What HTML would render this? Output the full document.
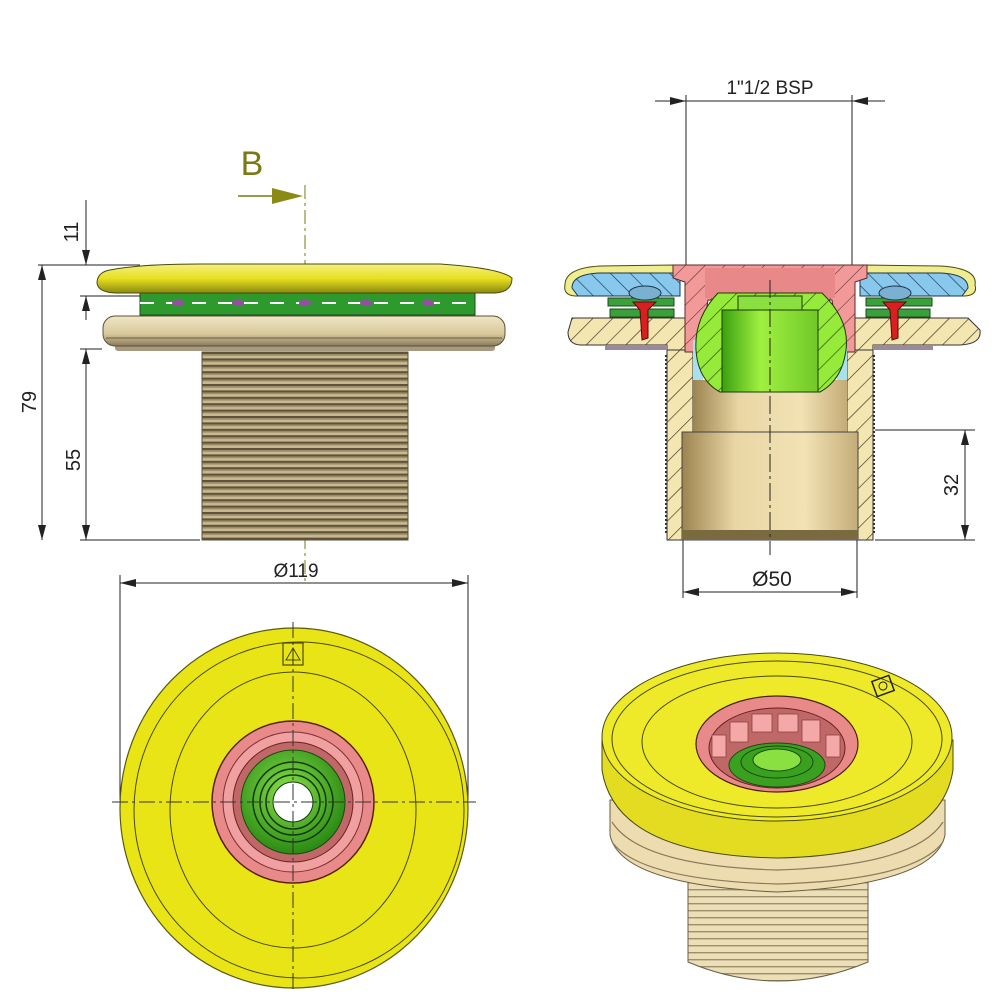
<!DOCTYPE html>
<html><head><meta charset="utf-8"><style>
html,body{margin:0;padding:0;background:#fff;}
svg{display:block;}
text{font-family:"Liberation Sans",sans-serif;}
</style></head><body>
<svg width="1000" height="1000" viewBox="0 0 1000 1000" xmlns="http://www.w3.org/2000/svg">
<defs>
<pattern id="thr" width="8" height="6.4" patternUnits="userSpaceOnUse">
<rect width="8" height="6.4" fill="#c8b88e"/>
<rect y="0" width="8" height="2.2" fill="#5e5238"/>
<rect y="2.2" width="8" height="1.5" fill="#9a8a6a"/>
</pattern>
<pattern id="thr3" width="8" height="7" patternUnits="userSpaceOnUse">
<rect width="8" height="7" fill="#ecdfb8"/>
<rect y="0" width="8" height="1.4" fill="#9e8f6c"/>
</pattern>
<pattern id="hatch" width="14" height="14" patternUnits="userSpaceOnUse" patternTransform="rotate(45)">
<rect width="14" height="14" fill="#f4e6b0"/>
<line x1="0" y1="0" x2="0" y2="14" stroke="#3a3320" stroke-width="1.3"/>
</pattern>
<pattern id="hatchB" width="14" height="14" patternUnits="userSpaceOnUse" patternTransform="rotate(-45)">
<rect width="14" height="14" fill="#88c8ec"/>
<line x1="0" y1="0" x2="0" y2="14" stroke="#1a3550" stroke-width="1.3"/>
</pattern>
<pattern id="hatchG" width="14" height="14" patternUnits="userSpaceOnUse" patternTransform="rotate(45)">
<rect width="14" height="14" fill="#96ea3a"/>
<line x1="0" y1="0" x2="0" y2="14" stroke="#2a4a10" stroke-width="1.3"/>
</pattern>
<pattern id="hatchP" width="14" height="14" patternUnits="userSpaceOnUse" patternTransform="rotate(45)">
<rect width="14" height="14" fill="#f29a9a"/>
<line x1="0" y1="0" x2="0" y2="14" stroke="#5a2a2a" stroke-width="1.1"/>
</pattern>
<linearGradient id="tube" x1="0" x2="1">
<stop offset="0" stop-color="#9c8450"/><stop offset="0.3" stop-color="#e9d6a4"/><stop offset="0.7" stop-color="#f2e2b4"/><stop offset="1" stop-color="#c4ac78"/>
</linearGradient>
<linearGradient id="gcyl" x1="0" x2="1">
<stop offset="0" stop-color="#3aa010"/><stop offset="0.4" stop-color="#a0f040"/><stop offset="1" stop-color="#70c828"/>
</linearGradient>
<radialGradient id="gball" cx="0.45" cy="0.4" r="0.6">
<stop offset="0" stop-color="#8ae04a"/><stop offset="1" stop-color="#2a8a14"/>
</radialGradient>
<linearGradient id="yel" x1="0" y1="0" x2="0" y2="1">
<stop offset="0" stop-color="#f4f080"/><stop offset="0.5" stop-color="#e6e020"/><stop offset="1" stop-color="#8a8a10"/>
</linearGradient>
<linearGradient id="tan" x1="0" y1="0" x2="0" y2="1">
<stop offset="0" stop-color="#f0e6c4"/><stop offset="0.6" stop-color="#d8c89c"/><stop offset="1" stop-color="#8a7a5a"/>
</linearGradient>
</defs>

<text x="252" y="175" font-size="34" fill="#7a7a10" text-anchor="middle">B</text>
<line x1="238" y1="196" x2="275" y2="196" stroke="#7a7a10" stroke-width="1.5"/>
<polygon points="272,188 303,196 272,204" fill="#8a8a14"/>
<line x1="305" y1="185" x2="305" y2="585" stroke="#7a7a10" stroke-width="1" stroke-dasharray="14,4,3,4"/>

<rect x="202" y="352" width="206" height="188" fill="url(#thr)"/>
<rect x="202" y="352" width="206" height="188" fill="none" stroke="#5a503a" stroke-width="1"/>
<rect x="115" y="342" width="380" height="9" fill="#a89a80" rx="3"/>
<rect x="103" y="316" width="402" height="30" rx="12" fill="url(#tan)" stroke="#5a503a" stroke-width="1"/>
<line x1="106" y1="338" x2="502" y2="338" stroke="#6a5e44" stroke-width="1"/>
<rect x="140" y="293" width="335" height="22" fill="#2e9a2e" stroke="#1a4a1a" stroke-width="1"/>
<line x1="140" y1="303" x2="475" y2="303" stroke="#fff" stroke-width="2" stroke-dasharray="14,12"/>
<g fill="#9a4aaa"><ellipse cx="178" cy="303" rx="6" ry="3"/><ellipse cx="238" cy="303" rx="6" ry="3"/><ellipse cx="305" cy="303" rx="6" ry="3"/><ellipse cx="366" cy="303" rx="6" ry="3"/><ellipse cx="428" cy="303" rx="6" ry="3"/></g>
<path d="M110,270 Q140,264 200,264 L440,264 Q500,268 512,278 Q512,292 495,293 L115,293 Q97,292 97,282 Q98,272 110,270Z" fill="url(#yel)" stroke="#4a4a10" stroke-width="1"/>

<g stroke="#222" stroke-width="1" fill="none">
<line x1="38" y1="265" x2="140" y2="265"/>
<line x1="80" y1="540" x2="200" y2="540"/>
<line x1="80" y1="296" x2="140" y2="296"/>
<line x1="80" y1="349" x2="102" y2="349"/>
<line x1="42" y1="265" x2="42" y2="540"/>
<line x1="86" y1="200" x2="86" y2="265"/>
<line x1="86" y1="296" x2="86" y2="320"/>
<line x1="86" y1="349" x2="86" y2="540"/>
</g>
<g fill="#222">
<polygon points="42,265 38,280 46,280"/><polygon points="42,540 38,525 46,525"/>
<polygon points="86,265 82,250 90,250"/><polygon points="86,296 82,311 90,311"/>
<polygon points="86,349 82,364 90,364"/><polygon points="86,540 82,525 90,525"/>
</g>
<text transform="translate(78,232) rotate(-90)" font-size="20" fill="#222" text-anchor="middle">11</text>
<text transform="translate(36,402) rotate(-90)" font-size="20" fill="#222" text-anchor="middle">79</text>
<text transform="translate(80,460) rotate(-90)" font-size="20" fill="#222" text-anchor="middle">55</text>

<g stroke="#222" stroke-width="1"><line x1="120" y1="575" x2="120" y2="800"/><line x1="468" y1="575" x2="468" y2="800"/><line x1="120" y1="583" x2="468" y2="583"/></g>
<polygon points="120,583 136,579 136,587" fill="#222"/><polygon points="468,583 452,579 452,587" fill="#222"/>
<text x="296" y="577" font-size="19" fill="#222" text-anchor="middle">Ø119</text>

<ellipse cx="294" cy="808" rx="174" ry="180" fill="#e8e416" stroke="#5a5a10" stroke-width="1.2"/>
<ellipse cx="299" cy="810" rx="165" ry="168" fill="none" stroke="#4a4a10" stroke-width="1"/>
<ellipse cx="293" cy="810" rx="123" ry="138" fill="none" stroke="#4a4a10" stroke-width="1"/>
<rect x="283" y="643" width="20" height="22" fill="none" stroke="#4a4a10" stroke-width="1.2"/>
<polygon points="293,648 300,660 286,660" fill="none" stroke="#4a4a10"/>
<circle cx="293" cy="802" r="81" fill="#e88a8a" stroke="#5a2020" stroke-width="1.5"/>
<circle cx="293" cy="802" r="70" fill="#f0a0a0" stroke="#7a3030" stroke-width="1"/>
<circle cx="293" cy="802" r="60" fill="#c06868" stroke="#6a2020" stroke-width="1"/>
<circle cx="293" cy="802" r="52" fill="url(#gball)" stroke="#1a4a10" stroke-width="1"/>
<circle cx="293" cy="802" r="40" fill="none" stroke="#123a0a" stroke-width="1.5"/>
<circle cx="293" cy="802" r="33" fill="none" stroke="#123a0a" stroke-width="1.5"/>
<circle cx="293" cy="802" r="27" fill="none" stroke="#123a0a" stroke-width="1.5"/>
<circle cx="293" cy="802" r="20" fill="#fff" stroke="#123a0a" stroke-width="1"/>
<line x1="293" y1="622" x2="293" y2="992" stroke="#333" stroke-width="1" stroke-dasharray="16,4,3,4"/>
<line x1="112" y1="802" x2="476" y2="802" stroke="#333" stroke-width="1" stroke-dasharray="16,4,3,4"/>

<text x="770" y="94" font-size="19" fill="#222" text-anchor="middle">1"1/2 BSP</text>
<g stroke="#222" stroke-width="1"><line x1="655" y1="101" x2="885" y2="101"/><line x1="686" y1="95" x2="686" y2="275"/><line x1="852" y1="95" x2="852" y2="275"/></g>
<polygon points="686,101 670,97 670,105" fill="#222"/><polygon points="852,101 868,97 868,105" fill="#222"/>

<path d="M667,350 L693,350 L693,432 L682,432 L682,540 L667,540Z" fill="url(#hatch)" stroke="#333" stroke-width="1"/>
<path d="M873,350 L847,350 L847,432 L858,432 L858,540 L873,540Z" fill="url(#hatch)" stroke="#333" stroke-width="1"/>
<line x1="666" y1="355" x2="666" y2="535" stroke="#333" stroke-width="2" stroke-dasharray="2,2"/>
<line x1="874" y1="355" x2="874" y2="535" stroke="#333" stroke-width="2" stroke-dasharray="2,2"/>
<rect x="693" y="380" width="154" height="52" fill="url(#tube)"/>
<rect x="682" y="432" width="176" height="108" fill="url(#tube)" stroke="#444" stroke-width="1"/>
<rect x="682" y="530" width="176" height="10" fill="#7a6a40"/>
<path d="M572,318 L690,318 L690,350 L667,350 L667,345 L580,345 Q568,344 568,332 Z" fill="url(#hatch)" stroke="#333"/>
<path d="M968,318 L850,318 L850,350 L873,350 L873,345 L960,345 Q982,344 980,330 Z" fill="url(#hatch)" stroke="#333"/>
<rect x="605" y="345" width="62" height="5" fill="#9a8a9a"/><rect x="873" y="345" width="60" height="5" fill="#9a8a9a"/>
<path d="M565,285 Q565,268 600,266 L675,265 L675,296 L575,296 Q563,295 565,285Z" fill="#f0ec90" stroke="#4a4a10"/>
<path d="M975,285 Q978,268 940,266 L865,265 L865,296 L965,296 Q978,295 975,285Z" fill="#f0ec90" stroke="#4a4a10"/>
<path d="M572,288 Q572,274 600,273 L680,273 L680,296 L578,296Z" fill="url(#hatchB)" stroke="#1a3550"/>
<path d="M968,288 Q968,274 940,273 L860,273 L860,296 L962,296Z" fill="url(#hatchB)" stroke="#1a3550"/>
<rect x="608" y="298" width="66" height="8" fill="#3aa03a" stroke="#1a4a1a"/><rect x="610" y="309" width="64" height="8" fill="#3aa03a" stroke="#1a4a1a"/>
<rect x="866" y="298" width="66" height="8" fill="#3aa03a" stroke="#1a4a1a"/><rect x="866" y="309" width="64" height="8" fill="#3aa03a" stroke="#1a4a1a"/>
<ellipse cx="645" cy="293" rx="16" ry="7" fill="#7ab0d0" stroke="#1a3550"/>
<ellipse cx="895" cy="293" rx="16" ry="7" fill="#7ab0d0" stroke="#1a3550"/>
<path d="M633,302 L656,302 L648,310 L648,338 L642,340 L640,310Z" fill="#d82020" stroke="#5a0a0a"/>
<path d="M883,302 L906,302 L898,310 L898,338 L892,340 L890,310Z" fill="#d82020" stroke="#5a0a0a"/>
<path d="M673,265 L867,265 L867,278 L855,282 L855,352 L840,352 L832,300 L708,300 L700,352 L685,352 L685,282 L673,278Z" fill="url(#hatchP)" stroke="#5a2a2a"/>
<rect x="705" y="268" width="130" height="30" fill="#e88888"/>
<path d="M693,340 L703,340 L703,380 L693,380Z" fill="#a8e0f0"/><path d="M837,340 L847,340 L847,380 L837,380Z" fill="#a8e0f0"/>
<path d="M718,293 L822,293 Q850,320 846,350 Q842,380 820,392 L720,392 Q698,380 696,350 Q694,318 718,293Z" fill="url(#hatchG)" stroke="#1a3a0a"/>
<rect x="722" y="310" width="96" height="82" fill="url(#gcyl)" stroke="#1a3a0a"/>
<rect x="738" y="296" width="64" height="14" fill="#8ae040" stroke="#1a3a0a"/>
<line x1="770" y1="280" x2="770" y2="555" stroke="#222" stroke-width="1" stroke-dasharray="18,4,3,4"/>

<g stroke="#222" stroke-width="1"><line x1="875" y1="430" x2="975" y2="430"/><line x1="875" y1="540" x2="975" y2="540"/><line x1="965" y1="430" x2="965" y2="540"/></g>
<polygon points="965,430 961,445 969,445" fill="#222"/><polygon points="965,540 961,525 969,525" fill="#222"/>
<text transform="translate(958,485) rotate(-90)" font-size="20" fill="#222" text-anchor="middle">32</text>
<g stroke="#222" stroke-width="1"><line x1="683" y1="540" x2="683" y2="598"/><line x1="857" y1="540" x2="857" y2="598"/><line x1="683" y1="592" x2="857" y2="592"/></g>
<polygon points="683,592 699,588 699,596" fill="#222"/><polygon points="857,592 841,588 841,596" fill="#222"/>
<text x="772" y="586" font-size="21" fill="#222" text-anchor="middle">Ø50</text>

<path d="M688,880 L688,962 Q778,1000 868,962 L868,880Z" fill="url(#thr3)" stroke="#6a5e44"/>
<path d="M610,800 L610,835 Q620,885 777,892 Q935,885 945,835 L945,800Z" fill="#ecdcb0" stroke="#6a5e44"/>
<path d="M612,842 Q640,880 777,884 Q915,880 943,842" fill="none" stroke="#8a7a5a" stroke-width="1.2"/>
<path d="M612,822 Q640,866 777,870 Q915,866 943,822" fill="none" stroke="#8a7a5a" stroke-width="1.2"/>
<path d="M602,740 L602,770 Q615,855 777,858 Q940,855 953,770 L953,740Z" fill="#e4dc20" stroke="#4a4a10"/>
<ellipse cx="777" cy="737" rx="175" ry="84" fill="#eeea2a" stroke="#4a4a10"/>
<ellipse cx="777" cy="739" rx="165" ry="78" fill="none" stroke="#4a4a10"/>
<ellipse cx="777" cy="742" rx="135" ry="66" fill="none" stroke="#4a4a10"/>
<g transform="translate(883,686) rotate(-20)"><rect x="-9" y="-8" width="18" height="16" fill="none" stroke="#222" stroke-width="1.5"/><circle r="4" fill="none" stroke="#222"/></g>
<ellipse cx="777" cy="744" rx="81" ry="48" fill="#e88a8a" stroke="#4a2020" stroke-width="1.2"/>
<ellipse cx="777" cy="748" rx="68" ry="40" fill="#c06868" stroke="#6a2020"/>
<g fill="#f4a8a8" stroke="#8a4040" stroke-width="0.8">
<rect x="730" y="722" width="18" height="20"/><rect x="752" y="714" width="20" height="18"/><rect x="778" y="714" width="20" height="18"/><rect x="802" y="720" width="18" height="22"/><rect x="712" y="735" width="14" height="22"/><rect x="826" y="735" width="14" height="22"/>
</g>
<ellipse cx="777" cy="765" rx="48" ry="22" fill="#3aa020" stroke="#1a4a10"/>
<ellipse cx="777" cy="762" rx="36" ry="16" fill="none" stroke="#1a4a10"/>
<ellipse cx="777" cy="760" rx="24" ry="11" fill="#8ae040" stroke="#1a4a10"/>
</svg>
</body></html>
